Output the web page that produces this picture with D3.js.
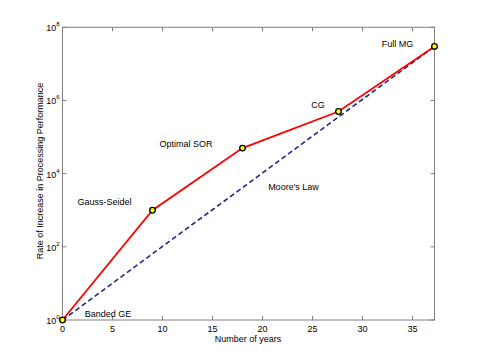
<!DOCTYPE html>
<html><head><meta charset="utf-8">
<script src="https://cdn.jsdelivr.net/npm/d3@7"></script>
<style>body{margin:0;background:#fff}svg{display:block;font-family:"Liberation Sans",Arial,sans-serif}</style>
</head><body><svg id="c" width="480" height="360"></svg>
<script>
const years = [0, 9, 18, 27.6, 37.2];
const performance = [1, 1000, 50000, 500000, 30000000];
const labels = ["Banded GE", "Gauss-Seidel", "Optimal SOR", "CG", "Full MG"];
const mooreYears = [0, 37.2];
const mooreValues = [1, 30000000];
const xTicks = [0, 5, 10, 15, 20, 25, 30, 35];
const yTickExps = [0, 2, 4, 6, 8];

const svg = d3.select("#c");
const L = 62.5, R = 434.5, T = 27.3, B = 320;
const x = d3.scaleLinear().domain([0, 37.2]).range([L, R]);
const y = d3.scaleLog().domain([1, 1e8]).range([B, T]);
const axisCol = "#808080";
const fs = 9;

// box
svg.append("rect").attr("x", L).attr("y", T).attr("width", R - L).attr("height", B - T)
  .attr("fill", "none").attr("stroke", axisCol).attr("stroke-width", 1);

const ax = svg.append("g");
xTicks.forEach(t => {
  ax.append("line").attr("x1", x(t)).attr("x2", x(t)).attr("y1", B).attr("y2", B - 4).attr("stroke", axisCol);
  ax.append("line").attr("x1", x(t)).attr("x2", x(t)).attr("y1", T).attr("y2", T + 4).attr("stroke", axisCol);
  ax.append("text").attr("x", x(t)).attr("y", B + 11.5).attr("text-anchor", "middle")
    .attr("font-size", fs).attr("fill", "#000").text(t);
});
yTickExps.forEach(e => {
  const v = Math.pow(10, e);
  ax.append("line").attr("x1", L).attr("x2", L + 4).attr("y1", y(v)).attr("y2", y(v)).attr("stroke", axisCol);
  ax.append("line").attr("x1", R).attr("x2", R - 4).attr("y1", y(v)).attr("y2", y(v)).attr("stroke", axisCol);
  const tx = ax.append("text").attr("x", L - 3).attr("y", y(v) + 4).attr("text-anchor", "end")
    .attr("font-size", fs).attr("fill", "#000");
  tx.append("tspan").text("10");
  tx.append("tspan").attr("dy", -5).attr("font-size", 6).text(e);
});

// Moore's law dashed line
const line = d3.line().x(d => x(d[0])).y(d => y(d[1]));
svg.append("path").datum(d3.zip(mooreYears, mooreValues)).attr("d", line)
  .attr("fill", "none").attr("stroke", "#262680").attr("stroke-width", 1.6).attr("stroke-dasharray", "5,3");

// algorithm line
const pts = d3.zip(years, performance);
svg.append("path").datum(pts).attr("d", line)
  .attr("fill", "none").attr("stroke", "#ff0000").attr("stroke-width", 1.8);
svg.selectAll("circle.m").data(pts).enter().append("circle")
  .attr("cx", d => x(d[0])).attr("cy", d => y(d[1])).attr("r", 2.8)
  .attr("fill", "#ffff00").attr("stroke", "#000").attr("stroke-width", 1.3);

// annotation labels
const labelPos = [[108, 316.5], [104.5, 204.5], [186, 146.5], [318, 107.5], [397.5, 46.5]];
labels.forEach((s, i) => {
  svg.append("text").attr("x", labelPos[i][0]).attr("y", labelPos[i][1]).attr("text-anchor", "middle")
    .attr("font-size", fs).attr("fill", "#000").text(s);
});
svg.append("text").attr("x", 293.5).attr("y", 190).attr("text-anchor", "middle")
  .attr("font-size", fs).attr("fill", "#000").text("Moore's Law");

// axis titles
svg.append("text").attr("x", 248).attr("y", 341.5).attr("text-anchor", "middle")
  .attr("font-size", fs).attr("fill", "#000").text("Number of years");
svg.append("text").attr("transform", `translate(43,171) rotate(-90)`).attr("text-anchor", "middle")
  .attr("font-size", fs).attr("fill", "#000").text("Rate of Increase in Processing Performance");
</script></body></html>
